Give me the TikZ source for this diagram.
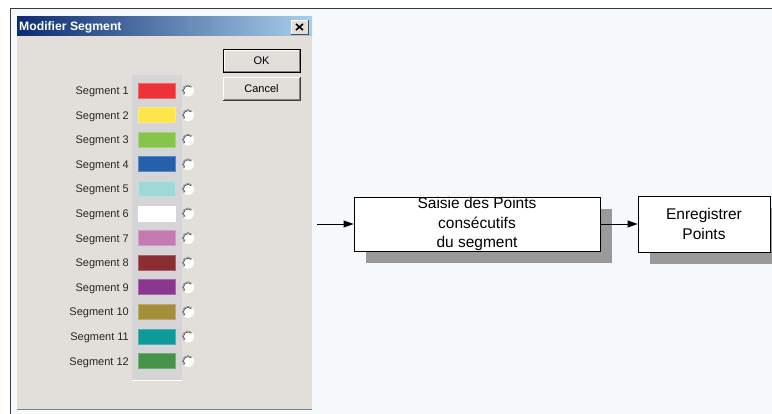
\documentclass[tikz,border=0pt]{standalone}
\usepackage{fontspec}
\setmainfont{Liberation Sans}
\usetikzlibrary{arrows.meta,shadows}
\definecolor{pagebg}{HTML}{F5F9FC}
\definecolor{dlgbody}{HTML}{E2DFDB}
\definecolor{swatchcol}{HTML}{D5D4D7}
\definecolor{titledark}{HTML}{0C2B6F}
\definecolor{titlelight}{HTML}{AACFEA}
\definecolor{framegray}{HTML}{3C3C3C}
\definecolor{shadowgray}{HTML}{9A9A9A}
\definecolor{btnshade}{HTML}{808080}
\definecolor{seg1}{HTML}{EE3338}
\definecolor{seg2}{HTML}{FCE64A}
\definecolor{seg3}{HTML}{86C44B}
\definecolor{seg4}{HTML}{2460AC}
\definecolor{seg5}{HTML}{9ED9D6}
\definecolor{seg6}{HTML}{FFFFFF}
\definecolor{seg7}{HTML}{C57AB2}
\definecolor{seg8}{HTML}{8B2D32}
\definecolor{seg9}{HTML}{8B378F}
\definecolor{seg10}{HTML}{A38E3A}
\definecolor{seg11}{HTML}{0E9A98}
\definecolor{seg12}{HTML}{459348}
\tikzset{
  seglabel/.style={anchor=base east, font=\fontsize{11}{12}\selectfont,
                   text=black!85, inner sep=0pt},
  swatch/.style={minimum width=37pt, minimum height=15pt, inner sep=0pt},
  dlgbtn/.style={fill=dlgbody, minimum width=77pt, minimum height=23pt,
                 font=\fontsize{11}{12}\selectfont, inner sep=0pt},
  procbox/.style={draw=black, line width=0.9pt, fill=white, align=center,
                  font=\fontsize{15.5}{19.5}\selectfont, inner sep=0pt,
                  general shadow={fill=shadowgray, shadow xshift=12pt, shadow yshift=-12pt}},
  flow/.style={-{Triangle[length=10pt,width=7pt]}, line width=0.9pt},
}

\begin{document}
\begin{tikzpicture}[x=1pt, y=-1pt]
    \useasboundingbox (0,0) rectangle (772,414);
    \fill[white] (0,0) rectangle (772,414);
    \fill[pagebg] (11,9) rectangle (772,414);
    \draw[framegray, line width=1.5pt] (10.5,414) -- (10.5,8.5) -- (772,8.5);

    % dialog window
    \fill[dlgbody] (17,36) rectangle (312,409);
    \draw[btnshade] (17,409.5) -- (312,409.5);
    \shade[left color=titledark, right color=titlelight] (17,17) rectangle (312,36);
    \node[anchor=west, text=white, font=\bfseries\fontsize{12.2}{13}\selectfont, inner sep=0pt]
      (title) at (19,27) {Modifier Segment};
    \fill[dlgbody] (291,20) rectangle (308,34);
    \draw[white] (291,34) |- (308,20);
    \draw[black!70] (291,34) -| (308,20);
    \draw[black, line width=1.6pt] (296,24) -- (303,30) (303,24) -- (296,30);

    % buttons
    \node[dlgbtn] (ok) at (261.5,60.5) {OK};
    \draw[black] (ok.south west) rectangle (ok.north east);
    \draw[white] ([shift={(1,-1)}]ok.south west) |- ([shift={(-1,1)}]ok.north east);
    \draw[btnshade] ([shift={(1,-1)}]ok.south west) -| ([shift={(-1,1)}]ok.north east);
    \node[dlgbtn] (cancel) at (261.5,89) {Cancel};
    \draw[white] (cancel.south west) |- (cancel.north east);
    \draw[black!75] (cancel.south west) -| (cancel.north east);
    \draw[btnshade] ([shift={(1,-1)}]cancel.south west) -| ([shift={(-1,1)}]cancel.north east);

    % colour column
    \fill[swatchcol] (132,75) rectangle (182,380);
    \draw[white] (132,380) -- (182,380);
    \foreach \i/\c in {1/seg1,2/seg2,3/seg3,4/seg4,5/seg5,6/seg6,
                       7/seg7,8/seg8,9/seg9,10/seg10,11/seg11,12/seg12} {
      \pgfmathsetmacro{\yy}{90.5+24.6*(\i-1)}
      \node[seglabel] (lbl\i) at (129,\yy+4) {Segment \i};
      \node[swatch, fill=\c, draw=\c!75!white, line width=0.6pt] (sw\i) at (156.5,\yy) {};
      \fill[white] (188,\yy) circle (6pt);
      \draw[black!40, line width=0.9pt] (188,\yy) ++(45:5.6pt) arc[start angle=45, end angle=225, radius=5.6pt];
      \draw[black!75, line width=0.6pt] (188,\yy) ++(45:4.5pt) arc[start angle=45, end angle=225, radius=4.5pt];
    }

    % flow
    \coordinate (entry) at (317,224);
    \node[procbox, minimum width=246pt, minimum height=54pt] (saisie) at (477,224)
      {Saisie des Points\\consécutifs\\du segment};
    \node[procbox, minimum width=132pt, minimum height=56pt] (enreg) at (704,224)
      {Enregistrer\\Points};
    \draw[flow] (entry) -- (saisie.west);
    \draw[flow] (saisie.east) -- (enreg.west);
\end{tikzpicture}
\end{document}
